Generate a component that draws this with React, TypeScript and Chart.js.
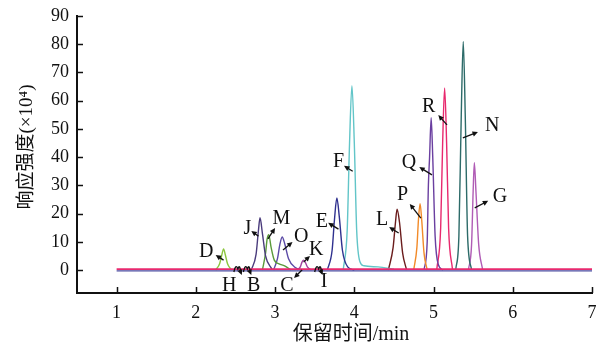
import React, { useEffect, useRef } from "react";
import { Chart, registerables } from "chart.js";
Chart.register(...registerables);

// ---- axis ticks ----
const xTicks = [1, 2, 3, 4, 5, 6, 7];
const yTicks = [0, 10, 20, 30, 40, 50, 60, 70, 80, 90];

// ---- baseline (all compounds) ----
const baseX = [1, 7];
const baseY = [0, 0];

// ---- peaks (retention time / min, response ×10^4) ----
const dX = [2.25, 2.3, 2.33, 2.35, 2.37, 2.4, 2.45];
const dY = [0, 2.2, 5.6, 7.5, 5.6, 2.2, 0];
const jX = [2.7, 2.76, 2.79, 2.81, 2.84, 2.88, 2.96];
const jY = [0, 5.5, 14, 18.5, 13, 5, 0.3];
const mX = [2.84, 2.88, 2.9, 2.92, 2.95, 2.99, 3.05, 3.12, 3.2];
const mY = [0, 6, 11, 12.5, 8, 3.5, 2.2, 1.5, 0];
const oX = [2.98, 3.03, 3.06, 3.09, 3.12, 3.17, 3.25, 3.35];
const oY = [0, 4, 9, 11.7, 9.5, 4, 1, 0];
const kX = [3.28, 3.32, 3.34, 3.36, 3.38, 3.41, 3.46];
const kY = [0, 1.2, 2.8, 3.5, 2.8, 1, 0];
const eX = [3.66, 3.72, 3.75, 3.78, 3.81, 3.85, 3.92, 4.0];
const eY = [0, 7, 18, 25.5, 19, 7, 1, 0];
const fX = [3.86, 3.91, 3.94, 3.97, 4.0, 4.03, 4.07, 4.12, 4.3, 4.5];
const fY = [0, 14, 45, 65.3, 45, 14, 3, 1.5, 1.1, 0.3];
const lX = [4.43, 4.49, 4.52, 4.54, 4.57, 4.61, 4.66];
const lY = [0, 8, 17, 21.5, 17, 6, 0];
const pX = [4.75, 4.79, 4.81, 4.83, 4.85, 4.88, 4.92];
const pY = [0, 8, 18, 23.5, 18, 6, 0];
const qX = [4.88, 4.92, 4.935, 4.95, 4.97, 4.99, 5.02, 5.06, 5.12];
const qY = [0, 10, 30, 40, 54, 40, 12, 2, 0];
const rX = [5.04, 5.09, 5.115, 5.14, 5.165, 5.19, 5.24];
const rY = [0, 15, 45, 64.5, 45, 15, 0];
const nX = [5.28, 5.32, 5.35, 5.375, 5.4, 5.43, 5.48];
const nY = [0, 12, 55, 81, 55, 12, 0];
const gX = [5.44, 5.48, 5.5, 5.515, 5.535, 5.57, 5.62];
const gY = [0, 9, 28, 38, 28, 9, 0];

const peakNames = ["D", "J", "M", "O", "K", "E", "F", "L", "P", "Q", "R", "N", "G"];
const peakXs = [dX, jX, mX, oX, kX, eX, fX, lX, pX, qX, rX, nX, gX];
const peakYs = [dY, jY, mY, oY, kY, eY, fY, lY, pY, qY, rY, nY, gY];
const peakColors = [
  "#8cc63f", "#4a3b7c", "#5a9a3a", "#5b4aa6", "#a0409f", "#2f318f", "#62c5c8",
  "#6b1d1d", "#f28a28", "#6a3fa0", "#e8296e", "#2d6b69", "#b05cb5",
];

// ---- annotation labels: [text, textX, textY, tailX, tailY, headX, headY] ----
const arrowLabels: [string, number, number, number, number, number, number][] = [
  ["D", 2.13, 6.4, 2.35, 3.5, 2.25, 5.3],
  ["J", 2.65, 14.5, 2.79, 12, 2.7, 13.8],
  ["M", 3.08, 18.1, 2.91, 11, 3.0, 14.9],
  ["O", 3.33, 11.7, 3.1, 7.1, 3.22, 9.9],
  ["K", 3.52, 7.1, 3.36, 2.8, 3.44, 5],
  ["C", 3.15, -5.7, 3.34, 0, 3.24, -2.8],
  ["E", 3.59, 17, 3.8, 14.5, 3.67, 16.7],
  ["F", 3.8, 38.3, 3.98, 35, 3.87, 36.9],
  ["L", 4.35, 17.7, 4.56, 13.1, 4.44, 15.2],
  ["P", 4.61, 26.6, 4.84, 18.4, 4.7, 23.4],
  ["Q", 4.69, 37.9, 4.98, 33.7, 4.82, 36.5],
  ["R", 4.94, 57.8, 5.17, 51.4, 5.06, 54.9],
  ["N", 5.74, 51, 5.37, 46.8, 5.56, 48.9],
  ["G", 5.84, 25.9, 5.52, 22, 5.69, 24.5],
];
// curved small arrows: [text, textX, textY, arcStartX, arcEndX]
const curlLabels: [string, number, number, number, number][] = [
  ["H", 2.42, -5.7, 2.48, 2.58],
  ["B", 2.73, -5.7, 2.6, 2.7],
  ["I", 3.62, -4.3, 3.5, 3.6],
];

const SERIF = '"Liberation Serif", "Times New Roman", serif';
const CJK = '"Liberation Serif", "Noto Sans CJK SC", serif';

function drawArrow(ctx: CanvasRenderingContext2D, x1: number, y1: number, x2: number, y2: number) {
  const ang = Math.atan2(y2 - y1, x2 - x1);
  const hl = 6;
  ctx.beginPath();
  ctx.moveTo(x1, y1);
  ctx.lineTo(x2 - Math.cos(ang) * 3, y2 - Math.sin(ang) * 3);
  ctx.stroke();
  ctx.beginPath();
  ctx.moveTo(x2, y2);
  ctx.lineTo(x2 - hl * Math.cos(ang - 0.45), y2 - hl * Math.sin(ang - 0.45));
  ctx.lineTo(x2 - hl * Math.cos(ang + 0.45), y2 - hl * Math.sin(ang + 0.45));
  ctx.closePath();
  ctx.fill();
}

const decorPlugin = {
  id: "decor",
  afterDraw(chart: any) {
    const { ctx, chartArea, scales } = chart;
    const xs = scales.x;
    const ys = scales.y;
    ctx.save();
    ctx.strokeStyle = "#111";
    ctx.fillStyle = "#111";
    ctx.lineWidth = 1.5;
    // inward tick marks
    xTicks.forEach((v) => {
      const px = Math.round(xs.getPixelForValue(v)) + 0.5;
      ctx.beginPath();
      ctx.moveTo(px, chartArea.bottom);
      ctx.lineTo(px, chartArea.bottom - 6);
      ctx.stroke();
    });
    yTicks.forEach((v) => {
      const py = Math.round(ys.getPixelForValue(v)) + 0.5;
      ctx.beginPath();
      ctx.moveTo(chartArea.left, py);
      ctx.lineTo(chartArea.left + 6, py);
      ctx.stroke();
    });
    // axis titles
    ctx.textAlign = "center";
    ctx.textBaseline = "middle";
    ctx.font = `20px ${CJK}`;
    ctx.fillText("保留时间/min", 351, 335);
    ctx.save();
    ctx.translate(27, 147);
    ctx.rotate(-Math.PI / 2);
    ctx.font = `19px ${CJK}`;
    ctx.fillText("响应强度(×10⁴)", 0, 0);
    ctx.restore();
    // labels with arrows
    ctx.font = `20px ${SERIF}`;
    ctx.lineWidth = 1.3;
    arrowLabels.forEach(([t, tx, ty, ax, ay, bx, by]) => {
      ctx.fillText(t, xs.getPixelForValue(tx), ys.getPixelForValue(ty));
      drawArrow(ctx, xs.getPixelForValue(ax), ys.getPixelForValue(ay), xs.getPixelForValue(bx), ys.getPixelForValue(by));
    });
    curlLabels.forEach(([t, tx, ty, a0, a1]) => {
      ctx.fillText(t, xs.getPixelForValue(tx), ys.getPixelForValue(ty));
      const p0 = xs.getPixelForValue(a0);
      const p1 = xs.getPixelForValue(a1);
      const y0 = ys.getPixelForValue(0) + 2;
      ctx.beginPath();
      ctx.moveTo(p0, y0);
      ctx.quadraticCurveTo(p0 + (p1 - p0) * 0.25, y0 - 9, (p0 + p1) / 2, y0 - 3);
      ctx.quadraticCurveTo(p0 + (p1 - p0) * 0.75, y0 - 9, p1 - 1, y0 + 1);
      ctx.stroke();
      drawArrow(ctx, p1 - 2, y0 - 2, p1, y0 + 3);
    });
    ctx.restore();
  },
};

export default function App() {
  const ref = useRef<HTMLCanvasElement | null>(null);
  useEffect(() => {
    if (!ref.current) return;
    const datasets: any[] = [
      {
        label: "baseline-pink",
        data: baseX.map((x, i) => ({ x, y: baseY[i] + 0.3 })),
        borderColor: "#e8296e",
        borderWidth: 1.6,
        pointRadius: 0,
      },
      {
        label: "baseline-blue",
        data: baseX.map((x, i) => ({ x, y: baseY[i] - 0.3 })),
        borderColor: "#4b4aa0",
        borderWidth: 1.4,
        pointRadius: 0,
      },
      ...peakNames.map((name, k) => ({
        label: name,
        data: peakXs[k].map((x, i) => ({ x, y: peakYs[k][i] })),
        borderColor: peakColors[k],
        borderWidth: 1.4,
        pointRadius: 0,
        cubicInterpolationMode: "monotone",
      })),
    ];
    const chart = new Chart(ref.current, {
      type: "line",
      data: { datasets },
      options: {
        animation: false,
        responsive: false,
        layout: { padding: { top: 16, right: 9, left: 0, bottom: 0 } },
        plugins: { legend: { display: false }, tooltip: { enabled: false } },
        scales: {
          x: {
            type: "linear",
            min: 0.5,
            max: 7,
            afterBuildTicks: (s: any) => {
              s.ticks = xTicks.map((v) => ({ value: v }));
            },
            afterFit: (s: any) => {
              s.height = 55;
              s.paddingLeft = 0;
              s.paddingRight = 0;
            },
            grid: { display: false, drawTicks: false },
            border: { display: true, color: "#111", width: 2 },
            ticks: { color: "#111", padding: 9, font: { family: SERIF, size: 18 }, maxRotation: 0 },
          },
          y: {
            type: "linear",
            min: -8.15,
            max: 90,
            afterBuildTicks: (s: any) => {
              s.ticks = yTicks.map((v) => ({ value: v }));
            },
            afterFit: (s: any) => {
              s.width = 77;
              s.paddingTop = 0;
              s.paddingBottom = 0;
            },
            grid: { display: false, drawTicks: false },
            border: { display: true, color: "#111", width: 2 },
            ticks: { color: "#111", padding: 8, font: { family: SERIF, size: 18 } },
          },
        },
      },
      plugins: [decorPlugin],
    });
    return () => chart.destroy();
  }, []);
  return (
    <div style={{ position: "absolute", left: 0, top: 0, width: 601, height: 348, background: "#fff" }}>
      <canvas ref={ref} width={601} height={348} />
    </div>
  );
}
